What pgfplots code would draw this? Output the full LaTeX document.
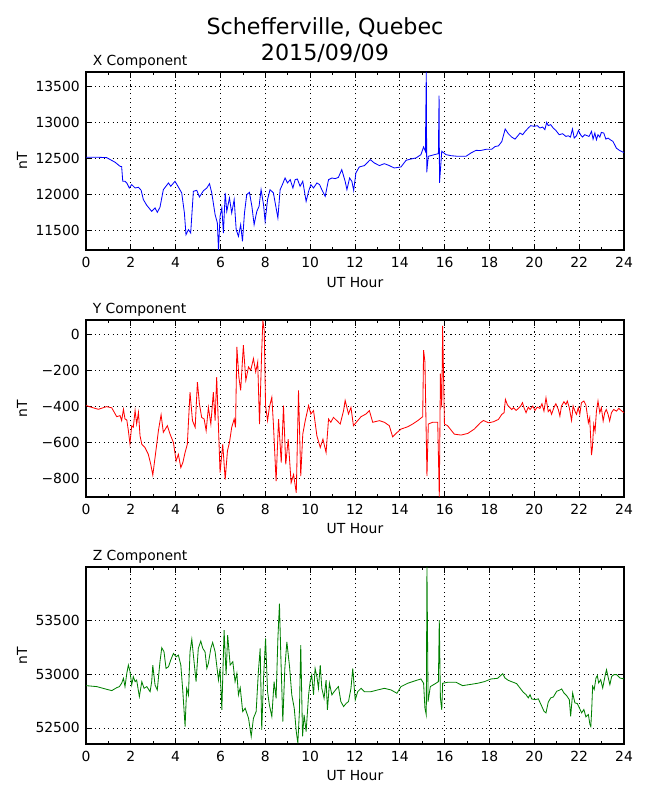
\documentclass[border=0pt]{standalone}
\usepackage{fontspec}
\setmainfont{DejaVu Sans}
\usepackage{pgfplots}
\pgfplotsset{compat=1.18}
\definecolor{mplgreen}{rgb}{0,0.5,0}
\tikzset{comp/.style={font=\fontsize{10bp}{12bp}\selectfont, anchor=base west, inner sep=0pt}}
\pgfplotsset{
  magstyle/.style={
    scale only axis, width=387.36bp, xmin=0, xmax=24,
    clip mode=individual,
    axis line style={line width=0.8bp},
    tick align=inside, tick pos=both,
    major tick length=4bp, minor tick length=2.5bp,
    every tick/.style={black, line width=0.5bp},
    xtick={0,2,...,24}, minor xtick={1,3,...,23},
    xticklabels={0,2,4,6,8,10,12,14,16,18,20,22,24},
    grid=major,
    major grid style={black, line width=0.5bp, dash pattern=on 0.8bp off 2.4bp},
    tick label style={font=\fontsize{10bp}{12bp}\selectfont},
    label style={font=\fontsize{10bp}{12bp}\selectfont},
    yticklabel style={inner sep=0pt, xshift=-4.3bp},
    xticklabel style={inner sep=0pt, yshift=-5bp},
    xlabel={UT Hour}, ylabel={nT},
    ylabel style={at={(axis description cs:-0.119,0.5)}, anchor=center},
    xlabel style={at={(axis description cs:0.5,-0.208)}, anchor=base},
    scaled y ticks=false,
    /pgf/number format/assume math mode=true,
  },
}
\begin{document}
\begin{tikzpicture}
\useasboundingbox (0,0) rectangle (468bp,576bp);
\node[anchor=base, inner sep=0pt, font=\fontsize{16bp}{19bp}\selectfont] at (234bp,551.5bp) {Schefferville, Quebec};
\node[anchor=base, inner sep=0pt, font=\fontsize{16bp}{19bp}\selectfont] at (234bp,532.1bp) {2015/09/09};

% ---------------- X component
\begin{axis}[magstyle, at={(61.92bp,396bp)}, anchor=south west, height=128.16bp,
  ymin=11222, ymax=13694,
  ytick={11500,12000,12500,13000,13500},
  yticklabels={11500,12000,12500,13000,13500}]
\addplot[blue, line width=0.6bp] table {
0 12509
0.5 12510
0.92 12505
1.3 12440
1.52 12384
1.59 12380
1.64 12176
1.74 12176
1.82 12153
1.93 12083
2.04 12130
2.19 12083
2.34 12093
2.46 12051
2.56 11921
2.71 11843
2.93 11759
3.08 11806
3.18 11745
3.30 11815
3.45 12060
3.68 12153
3.78 12106
3.97 12176
4.12 12097
4.27 12014
4.39 11736
4.46 11435
4.57 11505
4.67 11458
4.79 12037
4.94 12051
5.06 11958
5.24 12046
5.39 12083
5.51 12143
5.61 12014
5.76 11713
5.86 11597
5.91 11222
5.98 11690
6.06 11806
6.13 11458
6.21 12014
6.28 11759
6.40 11944
6.50 11736
6.61 11921
6.70 11505
6.80 11412
6.90 11574
6.98 11342
7.07 11736
7.17 11991
7.29 12023
7.40 11829
7.50 11574
7.62 11759
7.72 11829
7.81 12060
7.92 11852
7.99 11620
8.10 11921
8.21 12060
8.36 12014
8.48 11806
8.56 11667
8.66 12060
8.76 12130
8.88 12222
8.99 12153
9.11 12199
9.23 12083
9.33 12199
9.43 12208
9.55 12106
9.67 12176
9.82 11898
9.93 12037
10.03 12130
10.15 12083
10.30 12153
10.42 12130
10.52 12060
10.67 11968
10.82 12199
10.97 12222
11.12 12213
11.26 12231
11.41 12338
11.56 12176
11.64 12060
11.76 12222
11.86 12176
11.94 12050
12.04 12292
12.19 12375
12.42 12394
12.68 12477
12.86 12431
13.09 12394
13.31 12421
13.53 12394
13.75 12361
14.05 12375
14.28 12468
14.50 12486
14.72 12500
14.94 12546
15.06 12653
15.14 12593
15.18 13694
15.20 12301
15.27 12523
15.54 12546
15.72 12560
15.75 13366
15.77 12153
15.87 12593
16.06 12546
16.28 12532
16.58 12523
16.95 12523
17.17 12569
17.40 12606
17.59 12603
17.88 12622
18.10 12622
18.25 12659
18.40 12668
18.55 12729
18.70 12902
18.84 12837
18.99 12790
19.14 12762
19.24 12799
19.36 12846
19.48 12823
19.59 12869
19.73 12916
19.84 12949
19.99 12939
20.13 12949
20.25 12916
20.37 12930
20.47 12893
20.55 12995
20.62 12949
20.73 12963
20.84 12916
20.96 12883
21.11 12823
21.26 12837
21.41 12799
21.51 12809
21.61 12790
21.70 12902
21.78 12776
21.88 12809
21.97 12883
22.06 12823
22.15 12790
22.25 12823
22.36 12809
22.44 12799
22.55 12869
22.62 12762
22.70 12846
22.77 12753
22.84 12823
22.92 12790
22.99 12855
23.10 12846
23.19 12762
23.29 12776
23.39 12753
23.51 12729
23.66 12636
23.81 12603
24 12575
};
\node[comp] at (rel axis cs:0,1) [xshift=4.7bp, yshift=4.8bp] {X Component};
\end{axis}

% ---------------- Y component
\begin{axis}[magstyle, at={(61.92bp,218.16bp)}, anchor=south west, height=127.44bp,
  ymin=-905, ymax=78,
  ytick={-800,-600,-400,-200,0},
  yticklabels={−800,−600,−400,−200,0}]
\addplot[red, line width=0.6bp] table {
0 -397
0.25 -407
0.55 -418
0.92 -403
1.15 -410
1.37 -459
1.52 -453
1.59 -481
1.67 -418
1.74 -472
1.82 -477
1.89 -537
1.96 -608
2.04 -509
2.11 -518
2.19 -425
2.26 -500
2.34 -435
2.41 -565
2.49 -612
2.63 -630
2.78 -668
2.89 -724
2.98 -783
3.08 -686
3.23 -537
3.35 -448
3.45 -546
3.63 -509
3.75 -556
3.90 -602
4.02 -705
4.12 -668
4.23 -742
4.32 -714
4.42 -658
4.52 -612
4.64 -323
4.75 -481
4.87 -518
4.97 -267
5.06 -388
5.16 -463
5.27 -472
5.36 -537
5.46 -407
5.57 -500
5.68 -323
5.76 -481
5.83 -239
5.91 -518
5.98 -770
6.10 -612
6.21 -808
6.31 -649
6.40 -602
6.50 -518
6.61 -472
6.67 -518
6.73 -71
6.82 -239
6.90 -313
7.02 -62
7.13 -257
7.25 -183
7.35 -201
7.47 -136
7.57 -211
7.66 -155
7.74 -500
7.84 -90
7.89 75
7.95 22
8.01 -397
8.10 -481
8.18 -407
8.29 -351
8.36 -500
8.48 -817
8.59 -472
8.71 -714
8.81 -397
8.91 -724
9.02 -584
9.15 -826
9.26 -780
9.38 -882
9.48 -313
9.58 -789
9.67 -556
9.78 -481
9.93 -397
10.03 -444
10.15 -425
10.30 -565
10.45 -630
10.57 -584
10.71 -658
10.82 -472
10.92 -490
11.04 -463
11.19 -481
11.34 -500
11.49 -425
11.56 -369
11.71 -444
11.82 -407
11.93 -509
12.12 -481
12.27 -459
12.49 -444
12.64 -425
12.79 -490
13.09 -481
13.31 -490
13.53 -509
13.68 -571
13.83 -552
14.05 -528
14.35 -515
14.57 -500
14.80 -481
15.02 -459
15.06 -90
15.12 -155
15.21 -789
15.27 -500
15.46 -490
15.69 -490
15.76 -905
15.81 -220
15.87 -407
15.91 45
15.99 -500
16.13 -509
16.43 -556
16.73 -561
17.03 -552
17.32 -528
17.59 -493
17.73 -480
17.96 -493
18.18 -487
18.40 -474
18.55 -446
18.65 -437
18.71 -363
18.80 -394
18.89 -406
18.99 -419
19.07 -409
19.19 -424
19.29 -413
19.39 -400
19.47 -381
19.54 -409
19.63 -437
19.73 -406
19.81 -419
19.93 -400
20.03 -424
20.13 -406
20.25 -413
20.34 -387
20.43 -428
20.52 -354
20.62 -431
20.70 -419
20.77 -446
20.87 -409
20.96 -387
21.07 -419
21.14 -456
21.21 -400
21.32 -376
21.41 -391
21.47 -372
21.56 -409
21.66 -480
21.73 -400
21.81 -428
21.88 -446
21.96 -409
22.03 -446
22.10 -381
22.21 -372
22.30 -394
22.36 -446
22.41 -493
22.47 -465
22.55 -672
22.59 -631
22.65 -502
22.71 -539
22.77 -428
22.84 -372
22.92 -437
22.99 -409
23.07 -483
23.14 -437
23.21 -419
23.29 -446
23.36 -483
23.44 -437
23.54 -419
23.66 -428
23.77 -413
23.87 -424
24 -437
};
\node[comp] at (rel axis cs:0,1) [xshift=4.7bp, yshift=4.8bp] {Y Component};
\end{axis}

% ---------------- Z component
\begin{axis}[magstyle, at={(61.92bp,40.32bp)}, anchor=south west, height=127.44bp,
  ymin=52350, ymax=53994,
  ytick={52500,53000,53500},
  yticklabels={52500,53000,53500}]
\addplot[mplgreen, line width=0.6bp] table {
0 52892
0.48 52883
0.92 52858
1.15 52846
1.37 52873
1.49 52883
1.59 52914
1.67 52960
1.74 52883
1.82 53006
1.89 53083
1.96 53028
2.04 52898
2.11 52975
2.19 52929
2.26 52944
2.38 52790
2.49 52929
2.59 52867
2.71 52883
2.86 52836
2.93 52929
2.98 53083
3.08 52898
3.18 52852
3.30 53114
3.38 53244
3.48 53207
3.57 53052
3.68 53068
3.78 53130
3.90 53191
4.02 53160
4.12 53176
4.23 53083
4.32 52836
4.42 52512
4.49 52867
4.57 52806
4.64 53207
4.72 53324
4.79 53176
4.91 52929
5.01 53238
5.12 53306
5.21 53238
5.31 53207
5.39 53052
5.46 53099
5.57 53238
5.65 53293
5.76 53207
5.83 53083
5.91 52944
5.98 53052
6.06 52667
6.16 53407
6.25 52991
6.32 53361
6.43 53083
6.55 53114
6.65 52929
6.73 53006
6.80 52806
6.88 52873
6.99 52651
7.10 52682
7.25 52590
7.37 52420
7.47 52590
7.59 52651
7.69 53022
7.77 53238
7.84 52482
7.92 52960
8.01 53330
8.10 52836
8.18 52713
8.29 52605
8.39 52929
8.48 52775
8.56 53330
8.63 53654
8.69 53176
8.78 52559
8.87 53052
8.96 53299
9.08 53068
9.18 52806
9.29 52682
9.38 52466
9.45 52358
9.52 52651
9.58 53268
9.66 52420
9.73 52620
9.82 52466
9.93 52806
10.00 52929
10.07 52991
10.15 52806
10.22 53052
10.30 52975
10.37 52867
10.45 53083
10.52 52867
10.62 52775
10.71 52944
10.77 52667
10.86 52914
10.97 52806
11.07 52836
11.19 52867
11.26 52883
11.37 52744
11.49 52698
11.61 52728
11.71 52744
11.82 52867
11.90 53052
12.01 52759
12.12 52836
12.27 52867
12.42 52836
12.71 52836
13.01 52852
13.31 52867
13.61 52852
13.87 52821
14.05 52883
14.35 52914
14.65 52935
14.94 52954
15.06 52914
15.12 52682
15.18 52620
15.21 53994
15.26 52744
15.36 52883
15.61 52914
15.72 52929
15.76 53500
15.81 52775
15.87 52667
15.91 52914
16.13 52923
16.51 52923
16.80 52892
17.17 52904
17.47 52914
17.77 52929
18.07 52954
18.36 52960
18.59 53003
18.69 52963
18.84 52941
19.06 52923
19.21 52911
19.36 52870
19.51 52830
19.63 52809
19.73 52778
19.81 52809
19.88 52769
20.03 52762
20.18 52769
20.33 52701
20.43 52654
20.52 52639
20.62 52738
20.73 52778
20.85 52787
21.00 52840
21.11 52849
21.22 52861
21.32 52824
21.44 52799
21.56 52762
21.62 52608
21.71 52824
21.81 52732
21.92 52725
22.01 52685
22.11 52639
22.21 52670
22.30 52602
22.41 52624
22.48 52531
22.52 52512
22.56 52670
22.60 52886
22.67 52855
22.75 52963
22.81 52985
22.87 52917
22.96 52948
23.05 52870
23.15 52978
23.22 53040
23.30 52963
23.37 52901
23.45 52978
23.55 52994
23.67 52994
23.82 52963
24 52954
};
\node[comp] at (rel axis cs:0,1) [xshift=4.7bp, yshift=4.8bp] {Z Component};
\end{axis}
\end{tikzpicture}
\end{document}
